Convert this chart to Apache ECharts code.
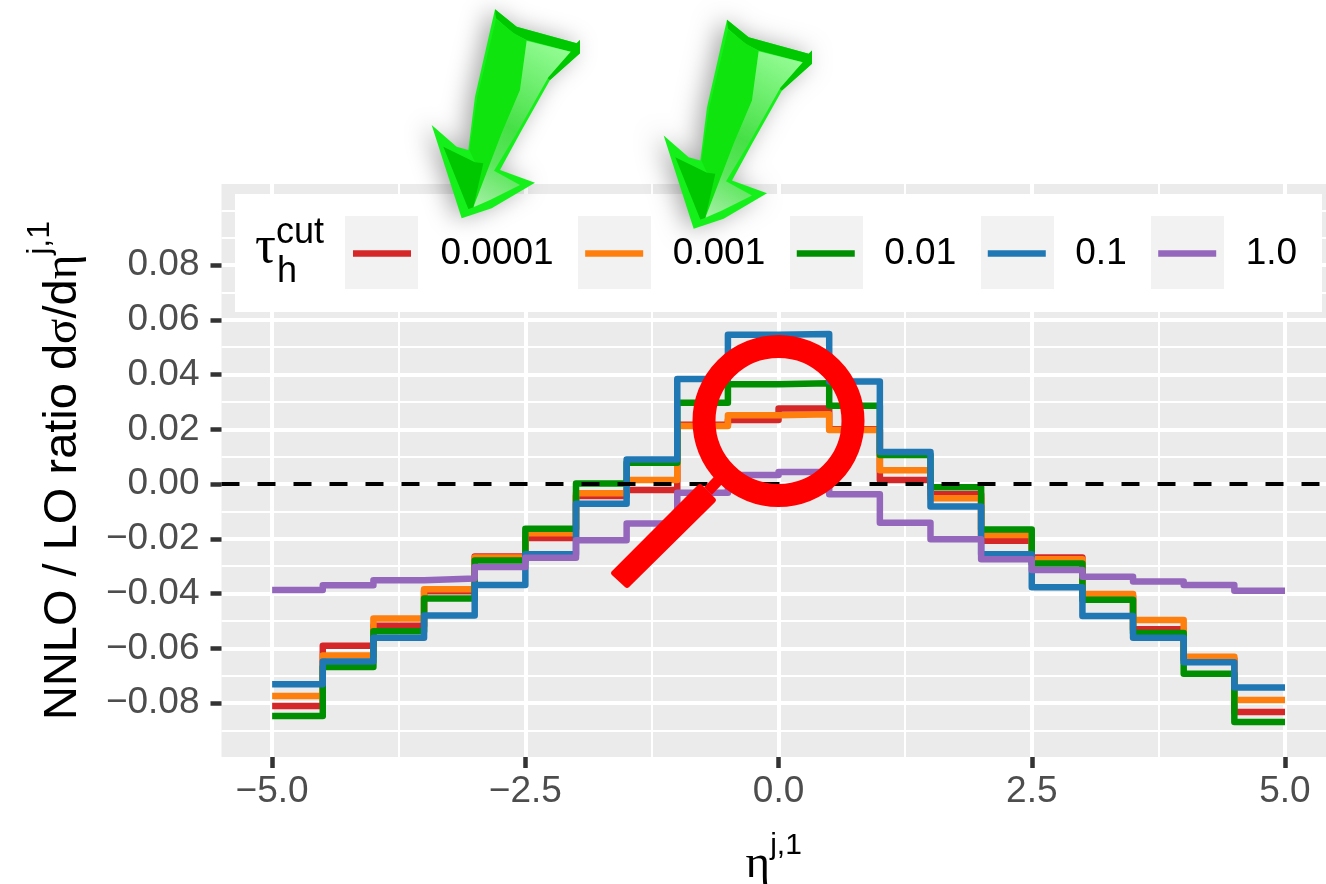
<!DOCTYPE html>
<html>
<head>
<meta charset="utf-8">
<style>html,body{margin:0;padding:0;background:#fff}#c{width:1326px;height:884px}</style>
<script src="https://cdn.jsdelivr.net/npm/echarts@6/dist/echarts.min.js"></script>
</head>
<body>
<div id="c"></div>
<script>
const binEdges = [-5,-4.5,-4,-3.5,-3,-2.5,-2,-1.5,-1,-0.5,0,0.5,1,1.5,2,2.5,3,3.5,4,4.5,5];
const tau0001 = [-0.0811,-0.0591,-0.0518,-0.0392,-0.0265,-0.0197,-0.0044,-0.0022,0.0217,0.0234,0.0276,0.0200,0.0015,-0.0037,-0.0207,-0.0268,-0.0410,-0.0530,-0.0640,-0.0833];
const tau001  = [-0.0774,-0.0626,-0.0491,-0.0384,-0.0268,-0.0180,-0.0034,0.0015,0.0212,0.0251,0.0255,0.0197,0.0050,-0.0052,-0.0186,-0.0275,-0.0402,-0.0497,-0.0631,-0.0789];
const tau01   = [-0.0847,-0.0668,-0.0538,-0.0418,-0.0279,-0.0163,0.0002,0.0078,0.0297,0.0365,0.0368,0.0286,0.0106,-0.0012,-0.0166,-0.0290,-0.0423,-0.0544,-0.0693,-0.0869];
const tau1    = [-0.0731,-0.0648,-0.0561,-0.0480,-0.0369,-0.0256,-0.0072,0.0090,0.0384,0.0545,0.0548,0.0375,0.0117,-0.0082,-0.0256,-0.0377,-0.0482,-0.0561,-0.0651,-0.0743];
const tau10   = [-0.0387,-0.0370,-0.0351,-0.0345,-0.0303,-0.0269,-0.0205,-0.0144,-0.0032,0.0033,0.0044,-0.0037,-0.0141,-0.0202,-0.0275,-0.0314,-0.0339,-0.0356,-0.0369,-0.0390];
const seriesNames = ['0.0001','0.001','0.01','0.1','1.0'];
const seriesColors = ['#d62728','#ff7f0e','#008f00','#1f77b4','#9467bd'];
const seriesValues = [tau0001,tau001,tau01,tau1,tau10];
const xMajor = [-5,-2.5,0,2.5,5];
const xMinor = [-3.75,-1.25,1.25,3.75];
const yMajor = [-0.08,-0.06,-0.04,-0.02,0,0.02,0.04,0.06,0.08];
const yMinor = [-0.09,-0.07,-0.05,-0.03,-0.01,0.01,0.03,0.05,0.07,0.09,0.10];

const minus = s => s.replace('-', '\u2212');
const stepData = vals => binEdges.map((x, i) => [x, i < vals.length ? vals[i] : vals[vals.length - 1]]);

const xRange = {min:-5.5, max:5.405};
const yRange = {min:-0.0997, max:0.1096};
const labelFont = {fontFamily:'Liberation Sans', fontSize:37, color:'#4d4d4d'};

const series = seriesNames.map((name, i) => ({
  name, type:'line', step:'end', symbol:'none', showSymbol:false,
  data: stepData(seriesValues[i]),
  lineStyle:{color:seriesColors[i], width:6.5, cap:'butt', join:'round'},
  itemStyle:{color:seriesColors[i]},
  emphasis:{disabled:true}
}));
series[4].markLine = {
  silent:true, symbol:'none', animation:false, label:{show:false},
  lineStyle:{color:'#000', width:4, type:[18,18], cap:'butt'},
  data:[{yAxis:0}]
};

function arrow(x, y) {
  const z = 100;
  const poly = (points, fill, extra) => Object.assign({type:'polygon', z, silent:true, shape:{points}, style:Object.assign({fill}, extra||{})});
  return {
    type:'group', x, y, scaleX:1/3, scaleY:1/3, silent:true,
    children:[
      poly([[225,28],[290,80],[470,130],[480,120],[480,160],[390,240],[300,400],[240,510],[345,548],[215,625],[125,655],[35,375],[110,440],[145,450],[165,290]],'#16f01a',{shadowColor:'rgba(0,0,0,0.35)',shadowBlur:24,shadowOffsetX:-6}),
      poly([[225,28],[290,80],[470,130],[480,120],[480,160],[390,240],[378,232],[452,155],[320,120],[280,100],[228,55]],'#00c800'),
      poly([[228,58],[282,100],[320,122],[300,270],[245,400],[160,622],[145,627],[165,487],[148,450],[172,290]],'#0fe40f'),
      poly([[320,122],[452,155],[385,232],[290,400],[222,512],[300,555],[210,600],[160,622],[245,400],[300,270]],
        {type:'linear',x:1,y:0,x2:0,y2:1,colorStops:[{offset:0,color:'#9cff9c'},{offset:0.55,color:'#46e046'},{offset:0.75,color:'#5ce65c'},{offset:1,color:'#a8f0a8'}]}),
      poly([[70,440],[165,487],[190,490],[160,622],[145,627]],'#00c800')
    ]
  };
}

const keyX = [345,578,790,981,1151];
const graphicEls = [
  {type:'rect', z:1, silent:true, shape:{x:235,y:194,width:1087,height:118}, style:{fill:'#ffffff'}},
  ...keyX.map(x => ({type:'rect', z:2, silent:true, shape:{x,y:216,width:73,height:73}, style:{fill:'#f2f2f2'}})),
  {type:'text', z:5, silent:true, style:{x:255,y:222,text:'\u03c4',font:'52px "Liberation Serif"',fill:'#000',verticalAlign:'top'}},
  {type:'text', z:5, silent:true, style:{x:276,y:215,text:'cut',font:'36px "Liberation Sans"',fill:'#000',verticalAlign:'top'}},
  {type:'text', z:5, silent:true, style:{x:277,y:254,text:'h',font:'36px "Liberation Sans"',fill:'#000',verticalAlign:'top'}},
  {type:'circle', z:50, silent:true, shape:{cx:778.5,cy:421,r:74.5}, style:{fill:'none',stroke:'#ff0000',lineWidth:23}},
  {type:'line', z:50, silent:true, shape:{x1:730,y1:468,x2:708,y2:491}, style:{stroke:'#ff0000',lineWidth:11}},
  {type:'polygon', z:50, silent:true, shape:{points:[[700,487.2],[712.8,500],[627,584.8],[614.2,573]]}, style:{fill:'#ff0000',stroke:'#ff0000',lineWidth:6,lineJoin:'round'}},
  arrow(420,0),
  arrow(652,10.5)
];

const yName = '{a|NNLO / LO ratio d}{g|\u03c3}{a|/d}{g|\u03b7}{s|j,1}';
const xName = '{g|\u03b7}{s|j,1}';

const option = {
  animation:false,
  backgroundColor:'#fff',
  grid:{left:221.5, right:0, top:184, bottom:127, show:true, backgroundColor:'#ebebeb', borderWidth:0, containLabel:false, outerBoundsMode:'none'},
  legend:{
    show:true, left:353, top:235, orient:'horizontal', itemWidth:58, itemHeight:6.5, itemGap:31.5,
    icon:'rect', selectedMode:false, data:seriesNames, padding:0,
    textStyle:{fontFamily:'Liberation Sans', fontSize:37, color:'#000', padding:[0,0,0,24.5]}
  },
  xAxis:[
    Object.assign({type:'value', position:'bottom'}, xRange, {
      axisLine:{show:false, onZero:false},
      axisTick:{show:true, customValues:xMajor, length:11, lineStyle:{color:'#333', width:4.5}},
      axisLabel:Object.assign({show:true, customValues:xMajor, margin:16, showMinLabel:true, showMaxLabel:true, hideOverlap:false, formatter:v=>minus(v.toFixed(1))}, labelFont),
      splitLine:{show:true, lineStyle:{color:'#fff', width:4}},
      name:xName, nameLocation:'middle', nameGap:74,
      nameTextStyle:{rich:{
        g:{fontFamily:'Liberation Serif', fontSize:47, color:'#000', lineHeight:68},
        s:{fontFamily:'Liberation Sans', fontSize:30, color:'#000', lineHeight:30, verticalAlign:'top'}
      }}
    }),
    Object.assign({type:'value', position:'top'}, xRange, {
      axisLine:{show:false, onZero:false}, axisLabel:{show:false},
      axisTick:{show:false, customValues:xMinor},
      splitLine:{show:true, lineStyle:{color:'#fff', width:2}}
    })
  ],
  yAxis:[
    Object.assign({type:'value', position:'left'}, yRange, {
      axisLine:{show:false, onZero:false},
      axisTick:{show:true, customValues:yMajor, length:11, lineStyle:{color:'#333', width:4.5}},
      axisLabel:Object.assign({show:true, customValues:yMajor, margin:22, showMinLabel:true, showMaxLabel:true, hideOverlap:false, formatter:v=>minus(v.toFixed(2))}, labelFont),
      splitLine:{show:true, lineStyle:{color:'#fff', width:4}},
      name:yName, nameLocation:'middle', nameGap:119, nameRotate:90,
      nameTextStyle:{rich:{
        a:{fontFamily:'Liberation Sans', fontSize:47, color:'#000', lineHeight:78},
        g:{fontFamily:'Liberation Serif', fontSize:47, color:'#000', lineHeight:78},
        s:{fontFamily:'Liberation Sans', fontSize:32, color:'#000', lineHeight:32, verticalAlign:'top'}
      }}
    }),
    Object.assign({type:'value', position:'right'}, yRange, {
      axisLine:{show:false, onZero:false}, axisLabel:{show:false},
      axisTick:{show:false, customValues:yMinor},
      splitLine:{show:true, lineStyle:{color:'#fff', width:2}}
    })
  ],
  series,
  graphic:{elements:graphicEls}
};
const chart = echarts.init(document.getElementById('c'), null, {renderer:'canvas'});
chart.setOption(option);
</script>
</body>
</html>
